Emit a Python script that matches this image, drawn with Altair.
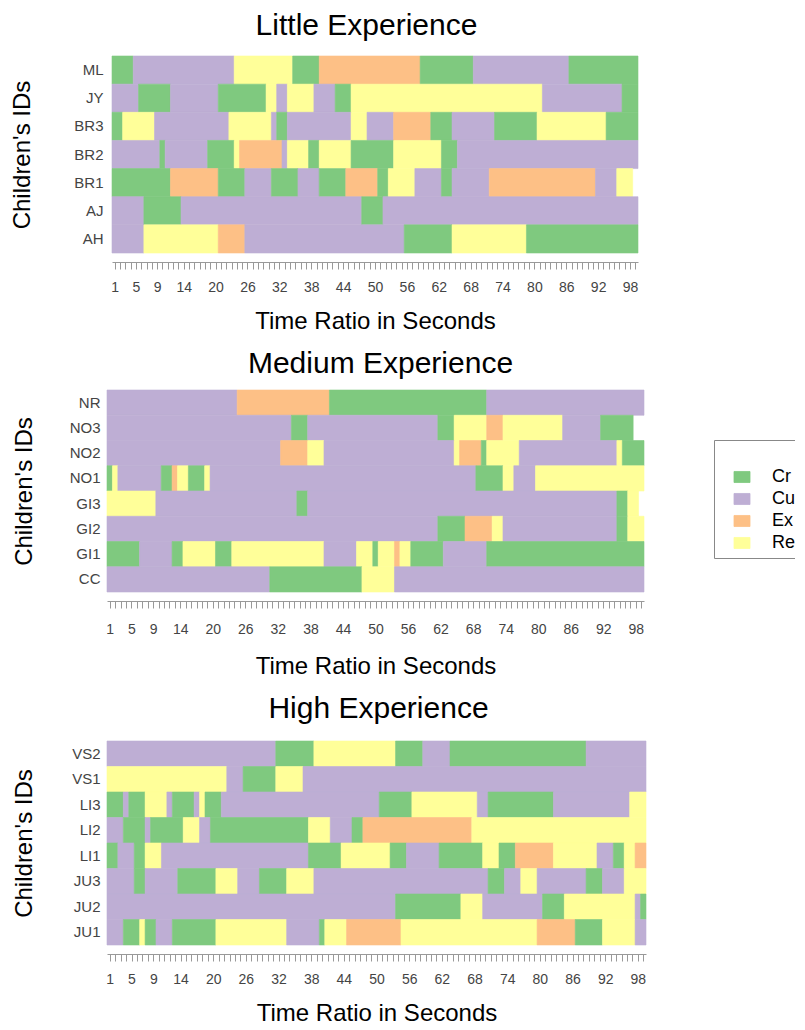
import altair as alt
import pandas as pd

STATES = ["Cr", "Cu", "Ex", "Re"]
COLORS = ["#7FC97F", "#BEAED4", "#FDC086", "#FFFF99"]
X_LABELS = [1, 5, 9, 14, 20, 26, 32, 38, 44, 50, 56, 62, 68, 74, 80, 86, 92, 98]
SECONDS = list(range(1, 100))

# ---- Little Experience: (state, first second, last second) runs per child
LITTLE_IDS = ["ML", "JY", "BR3", "BR2", "BR1", "AJ", "AH"]
ML = [("Cr", 1, 4), ("Cu", 5, 23), ("Re", 24, 34), ("Cr", 35, 39), ("Ex", 40, 58),
      ("Cr", 59, 68), ("Cu", 69, 86), ("Cr", 87, 99)]
JY = [("Cu", 1, 5), ("Cr", 6, 11), ("Cu", 12, 20), ("Cr", 21, 29), ("Re", 30, 31),
      ("Cu", 32, 33), ("Re", 34, 38), ("Cu", 39, 42), ("Cr", 43, 45), ("Re", 46, 81),
      ("Cu", 82, 96), ("Cr", 97, 99)]
BR3 = [("Cr", 1, 2), ("Re", 3, 8), ("Cu", 9, 22), ("Re", 23, 30), ("Cu", 31, 31),
       ("Cr", 32, 33), ("Cu", 34, 45), ("Re", 46, 48), ("Cu", 49, 53), ("Ex", 54, 60),
       ("Cr", 61, 64), ("Cu", 65, 72), ("Cr", 73, 80), ("Re", 81, 93), ("Cr", 94, 99)]
BR2 = [("Cu", 1, 9), ("Cr", 10, 10), ("Cu", 11, 18), ("Cr", 19, 23), ("Re", 24, 24),
       ("Ex", 25, 32), ("Cu", 33, 33), ("Re", 34, 37), ("Cr", 38, 39), ("Re", 40, 45),
       ("Cr", 46, 53), ("Re", 54, 62), ("Cr", 63, 65), ("Cu", 66, 99)]
BR1 = [("Cr", 1, 11), ("Ex", 12, 20), ("Cr", 21, 25), ("Cu", 26, 30), ("Cr", 31, 35),
       ("Cu", 36, 39), ("Cr", 40, 44), ("Ex", 45, 50), ("Cr", 51, 52), ("Re", 53, 57),
       ("Cu", 58, 62), ("Cr", 63, 64), ("Cu", 65, 71), ("Ex", 72, 91), ("Cu", 92, 95),
       ("Re", 96, 98)]
AJ = [("Cu", 1, 6), ("Cr", 7, 13), ("Cu", 14, 47), ("Cr", 48, 51), ("Cu", 52, 99)]
AH = [("Cu", 1, 6), ("Re", 7, 20), ("Ex", 21, 25), ("Cu", 26, 55), ("Cr", 56, 64),
      ("Re", 65, 78), ("Cr", 79, 99)]
LITTLE_RUNS = [ML, JY, BR3, BR2, BR1, AJ, AH]

# ---- Medium Experience
MEDIUM_IDS = ["NR", "NO3", "NO2", "NO1", "GI3", "GI2", "GI1", "CC"]
NR = [("Cu", 1, 24), ("Ex", 25, 41), ("Cr", 42, 70), ("Cu", 71, 99)]
NO3 = [("Cu", 1, 34), ("Cr", 35, 37), ("Cu", 38, 61), ("Cr", 62, 64), ("Re", 65, 70),
       ("Ex", 71, 73), ("Re", 74, 84), ("Cu", 85, 91), ("Cr", 92, 97)]
NO2 = [("Cu", 1, 32), ("Ex", 33, 37), ("Re", 38, 40), ("Cu", 41, 64), ("Re", 65, 65),
       ("Ex", 66, 69), ("Cr", 70, 70), ("Re", 71, 76), ("Cu", 77, 94), ("Re", 95, 95),
       ("Cr", 96, 99)]
NO1 = [("Cr", 1, 1), ("Re", 2, 2), ("Cu", 3, 10), ("Cr", 11, 12), ("Ex", 13, 13),
       ("Re", 14, 15), ("Cr", 16, 18), ("Re", 19, 19), ("Cu", 20, 68), ("Cr", 69, 73),
       ("Re", 74, 75), ("Cu", 76, 79), ("Re", 80, 99)]
GI3 = [("Re", 1, 9), ("Cu", 10, 35), ("Cr", 36, 37), ("Cu", 38, 94), ("Cr", 95, 96),
       ("Re", 97, 98)]
GI2 = [("Cu", 1, 61), ("Cr", 62, 66), ("Ex", 67, 71), ("Re", 72, 73), ("Cu", 74, 94),
       ("Cr", 95, 96), ("Re", 97, 99)]
GI1 = [("Cr", 1, 6), ("Cu", 7, 12), ("Cr", 13, 14), ("Re", 15, 20), ("Cr", 21, 23),
       ("Re", 24, 40), ("Cu", 41, 46), ("Re", 47, 49), ("Cr", 50, 50), ("Re", 51, 53),
       ("Ex", 54, 54), ("Re", 55, 56), ("Cr", 57, 62), ("Cu", 63, 70), ("Cr", 71, 99)]
CC = [("Cu", 1, 30), ("Cr", 31, 47), ("Re", 48, 53), ("Cu", 54, 99)]
MEDIUM_RUNS = [NR, NO3, NO2, NO1, GI3, GI2, GI1, CC]

# ---- High Experience
HIGH_IDS = ["VS2", "VS1", "LI3", "LI2", "LI1", "JU3", "JU2", "JU1"]
VS2 = [("Cu", 1, 31), ("Cr", 32, 38), ("Re", 39, 53), ("Cr", 54, 58), ("Cu", 59, 63),
       ("Cr", 64, 88), ("Cu", 89, 99)]
VS1 = [("Re", 1, 22), ("Cu", 23, 25), ("Cr", 26, 31), ("Re", 32, 36), ("Cu", 37, 99)]
LI3 = [("Cr", 1, 3), ("Cu", 4, 4), ("Cr", 5, 7), ("Re", 8, 11), ("Cu", 12, 12),
       ("Cr", 13, 16), ("Cu", 17, 17), ("Re", 18, 18), ("Cr", 19, 21), ("Cu", 22, 50),
       ("Cr", 51, 56), ("Re", 57, 68), ("Cu", 69, 70), ("Cr", 71, 82), ("Cu", 83, 96),
       ("Re", 97, 99)]
LI2 = [("Cu", 1, 3), ("Cr", 4, 7), ("Cu", 8, 8), ("Cr", 9, 14), ("Re", 15, 17),
       ("Cu", 18, 19), ("Cr", 20, 37), ("Re", 38, 41), ("Cu", 42, 45), ("Cr", 46, 47),
       ("Ex", 48, 67), ("Re", 68, 99)]
LI1 = [("Cr", 1, 2), ("Cu", 3, 5), ("Cr", 6, 7), ("Re", 8, 10), ("Cu", 11, 37),
       ("Cr", 38, 43), ("Re", 44, 52), ("Cr", 53, 55), ("Cu", 56, 61), ("Cr", 62, 69),
       ("Re", 70, 72), ("Cr", 73, 75), ("Ex", 76, 82), ("Re", 83, 90), ("Cu", 91, 93),
       ("Cr", 94, 95), ("Re", 96, 97), ("Ex", 98, 99)]
JU3 = [("Cu", 1, 5), ("Cr", 6, 7), ("Cu", 8, 13), ("Cr", 14, 20), ("Re", 21, 24),
       ("Cu", 25, 28), ("Cr", 29, 33), ("Re", 34, 38), ("Cu", 39, 70), ("Cr", 71, 73),
       ("Cu", 74, 76), ("Re", 77, 79), ("Cu", 80, 88), ("Cr", 89, 91), ("Cu", 92, 95),
       ("Re", 96, 99)]
JU2 = [("Cu", 1, 53), ("Cr", 54, 65), ("Re", 66, 69), ("Cu", 70, 80), ("Cr", 81, 84),
       ("Re", 85, 97), ("Cu", 98, 98), ("Cr", 99, 99)]
JU1 = [("Cu", 1, 3), ("Cr", 4, 6), ("Re", 7, 7), ("Cr", 8, 9), ("Cu", 10, 12),
       ("Cr", 13, 20), ("Re", 21, 33), ("Cu", 34, 39), ("Cr", 40, 40), ("Re", 41, 44),
       ("Ex", 45, 54), ("Re", 55, 79), ("Ex", 80, 86), ("Cr", 87, 91), ("Re", 92, 97),
       ("Cu", 98, 99)]
HIGH_RUNS = [VS2, VS1, LI3, LI2, LI1, JU3, JU2, JU1]

FONT = "Liberation Sans"
color_scale = alt.Scale(domain=STATES, range=COLORS)


def panel(title, ids, runs, width, height, xrange, label_pad, title_pad, title_dx,
          title_offset, xlabel_pad, xtitle_pad):
    rec = []
    for cid, segs in zip(ids, runs):
        for st, a, b in segs:
            rec.append({"id": cid, "state": st, "x0": a - 0.5, "x1": b + 0.5})
    df = pd.DataFrame(rec)
    label_test = "indexof([" + ",".join(str(v) for v in X_LABELS) + "], datum.value) >= 0"
    return alt.Chart(df, title=alt.Title(
        title, fontSize=30, font=FONT, fontWeight="normal", color="black",
        anchor="middle", dx=title_dx, offset=title_offset)
    ).mark_rect(strokeWidth=0.6).encode(
        x=alt.X("x0:Q", scale=alt.Scale(domain=[0.5, 99.5], nice=False, zero=False, range=xrange),
                axis=alt.Axis(title="Time Ratio in Seconds", values=SECONDS,
                              labelExpr=label_test + " ? datum.label : ''",
                              labelOverlap=False, labelFlush=False, grid=False,
                              labelFontSize=14, labelFont=FONT, labelColor="#444",
                              labelPadding=xlabel_pad, tickSize=7, tickColor="#999",
                              domainColor="#999", offset=9, titleFontSize=24, titleFont=FONT,
                              titleFontWeight="normal", titleColor="black",
                              titlePadding=xtitle_pad)),
        x2="x1:Q",
        y=alt.Y("id:N", sort=ids,
                axis=alt.Axis(title="Children's IDs", ticks=False, tickSize=0, domain=False,
                              labelFontSize=15, labelFont=FONT, labelColor="#444",
                              labelPadding=label_pad, titleFontSize=24, titleFont=FONT,
                              titleFontWeight="normal", titleColor="black",
                              titlePadding=title_pad)),
        color=alt.Color("state:N", scale=color_scale,
                        legend=alt.Legend(title=" ", titleFontSize=12, titlePadding=10,
                                          orient="none", legendX=607, legendY=384,
                                          symbolType="M-1,-0.69H1V0.69H-1Z", symbolSize=256,
                                          symbolStrokeColor="#555", symbolStrokeWidth=0.8,
                                          labelFontSize=18, labelFont=FONT, labelColor="black",
                                          labelOffset=21, symbolOffset=13, padding=6,
                                          strokeColor="#888", rowPadding=4)),
        stroke=alt.Stroke("state:N", scale=color_scale, legend=None),
    ).properties(width=width, height=height)


p1 = panel("Little Experience", LITTLE_IDS, LITTLE_RUNS, 531, 197, [5, 531], 4, 39, -6, 15, 11, 15)
p2 = panel("Medium Experience", MEDIUM_IDS, MEDIUM_RUNS, 537, 202, [0, 537], 7, 33, 5, 11, 14, 18)
p3 = panel("High Experience", HIGH_IDS, HIGH_RUNS, 539, 204, [0, 539], 7, 35, 2, 17, 11, 15)

chart = alt.vconcat(p1, p2, p3, spacing=15).properties(
    padding={"left": 2, "top": 2, "right": -8, "bottom": 0}
).configure_view(stroke=None)

chart.save("out.html", embed_options={"renderer": "svg", "actions": False})
